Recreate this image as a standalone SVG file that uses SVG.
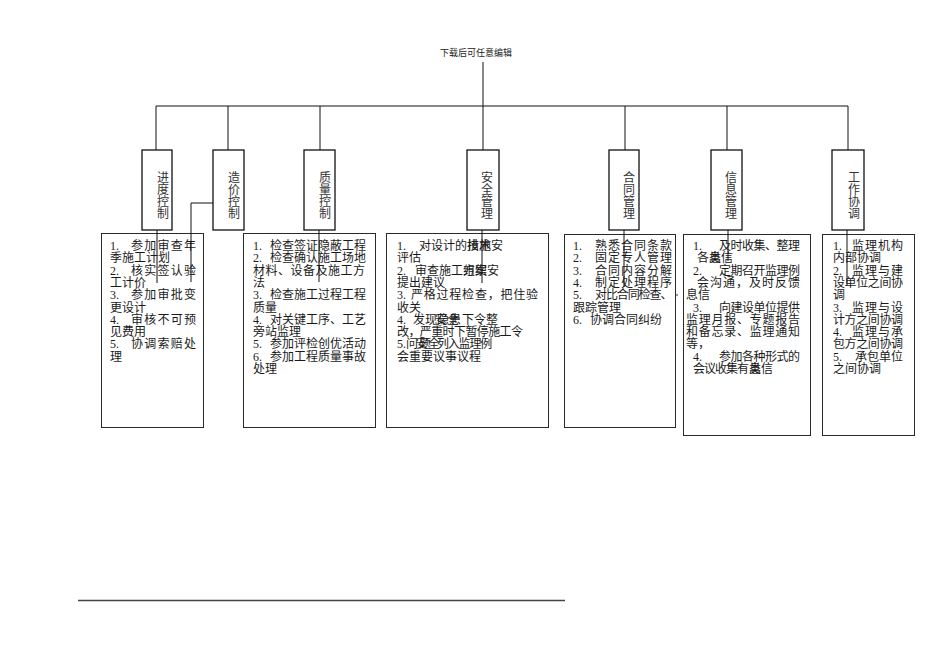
<svg xmlns="http://www.w3.org/2000/svg" width="950" height="672" viewBox="0 0 950 672">
<style>
.t{font-family:"Liberation Serif","Noto Sans CJK SC",serif;font-size:12px;fill:#1a1a1a}
.h{font-family:"Noto Sans CJK SC",sans-serif;font-size:12px;fill:#333;text-anchor:middle}
.ti{font-family:"Noto Sans CJK SC",sans-serif;font-size:9px;fill:#222;text-anchor:middle}
.box{fill:none;stroke:#2a2a2a;stroke-width:1}
.hb{fill:#fff;stroke:#111;stroke-width:1.3}
.ln{stroke:#111;stroke-width:1;fill:none}
</style>
<rect width="950" height="672" fill="#fff"/>
<text class="ti" x="476" y="56">下载后可任意编辑</text>

<g id="c-jindu">
<rect class="box" x="101.5" y="233.5" width="102" height="194"/>
<text class="t" y="250"><tspan x="110">1.</tspan><tspan x="131" letter-spacing="1.25">参加审查年</tspan></text>
<text class="t" x="110" y="262.3">季施工计划</text>
<text class="t" y="274.6"><tspan x="110">2.</tspan><tspan x="131" letter-spacing="1.25">核实签认验</tspan></text>
<text class="t" x="110" y="286.9">工计价</text>
<text class="t" y="299.2"><tspan x="110">3.</tspan><tspan x="131" letter-spacing="1.25">参加审批变</tspan></text>
<text class="t" x="110" y="311.5">更设计</text>
<text class="t" y="323.8"><tspan x="110">4.</tspan><tspan x="131" letter-spacing="1.25">审核不可预</tspan></text>
<text class="t" x="110" y="336.1">见费用</text>
<text class="t" y="348.4"><tspan x="110">5.</tspan><tspan x="131" letter-spacing="1.25">协调索赔处</tspan></text>
<text class="t" x="110" y="360.7">理</text>
</g>

<g id="c-zhiliang">
<rect class="box" x="243.5" y="233.5" width="132" height="194"/>
<text class="t" y="250"><tspan x="253">1.</tspan><tspan x="270">检查签证隐蔽工程</tspan></text>
<text class="t" y="262.3"><tspan x="253">2.</tspan><tspan x="270">检查确认施工场地</tspan></text>
<text class="t" x="253" y="274.6" letter-spacing="0.5">材料、设备及施工方</text>
<text class="t" x="253" y="286.9">法</text>
<text class="t" y="299.2"><tspan x="253">3.</tspan><tspan x="270">检查施工过程工程</tspan></text>
<text class="t" x="253" y="311.5">质量</text>
<text class="t" y="323.8"><tspan x="253">4.</tspan><tspan x="270">对关键工序、工艺</tspan></text>
<text class="t" x="253" y="336.1">旁站监理</text>
<text class="t" y="348.4"><tspan x="253">5.</tspan><tspan x="270">参加评检创优活动</tspan></text>
<text class="t" y="360.7"><tspan x="253">6.</tspan><tspan x="270">参加工程质量事故</tspan></text>
<text class="t" x="253" y="373">处理</text>
</g>

<g id="c-anquan">
<rect class="box" x="386.5" y="233.5" width="162" height="194"/>
<text class="t" y="250"><tspan x="397">1.</tspan><tspan x="419">对设计的</tspan><tspan x="467">技术</tspan><tspan x="467">措施</tspan><tspan x="491">安</tspan></text>
<text class="t" x="397" y="262.3">评估</text>
<text class="t" y="274.6"><tspan x="397">2.</tspan><tspan x="415">审查施工</tspan><tspan x="463">组织</tspan><tspan x="463">方案</tspan><tspan x="487">安</tspan></text>
<text class="t" x="397" y="286.9">提出建议</text>
<text class="t" y="299.2"><tspan x="397">3.</tspan><tspan x="411" letter-spacing="0.78">严格过程检查，把住验</tspan></text>
<text class="t" x="397" y="311.5">收关</text>
<text class="t" y="323.8"><tspan x="397">4.</tspan><tspan x="413">发现</tspan><tspan x="437">隐患</tspan><tspan x="435">安全</tspan><tspan x="462">下令整</tspan></text>
<text class="t" x="397" y="336.1" letter-spacing="-0.6">改，严重时下暂停施工令</text>
<text class="t" y="348.4"><tspan x="397">5.问</tspan><tspan x="419">题</tspan><tspan x="416">安全</tspan><tspan x="437" letter-spacing="-1.2">列入监理例</tspan></text>
<text class="t" x="397" y="360.7">会重要议事议程</text>
</g>

<g id="c-hetong">
<rect class="box" x="564.5" y="234.5" width="111" height="193"/>
<text class="t" y="250"><tspan x="573">1.</tspan><tspan x="595" letter-spacing="1">熟悉合同条款</tspan></text>
<text class="t" y="262.3"><tspan x="573">2.</tspan><tspan x="595" letter-spacing="1">固定专人管理</tspan></text>
<text class="t" y="274.6"><tspan x="573">3.</tspan><tspan x="595" letter-spacing="1">合同内容分解</tspan></text>
<text class="t" y="286.9"><tspan x="573">4.</tspan><tspan x="595" letter-spacing="1">制定处理程序</tspan></text>
<text class="t" y="299.2"><tspan x="573">5.</tspan><tspan x="595" letter-spacing="-1.1">对比合同检查、</tspan></text>
<circle cx="677" cy="295" r="1.2" fill="#999"/>
<text class="t" x="573" y="311.5">跟踪管理</text>
<text class="t" y="323.8"><tspan x="573">6.</tspan><tspan x="590">协调合同纠纷</tspan></text>
</g>

<g id="c-xinxi">
<rect class="box" x="683.5" y="234.5" width="127" height="201"/>
<text class="t" y="250"><tspan x="693">1.</tspan><tspan x="719" letter-spacing="-0.5">及时收集、整理</tspan></text>
<text class="t" y="262.3"><tspan x="697">各</tspan><tspan x="709">类</tspan><tspan x="709">息</tspan><tspan x="721">信</tspan></text>
<text class="t" y="274.6"><tspan x="693">2.</tspan><tspan x="719" letter-spacing="-0.5">定期召开监理例</tspan></text>
<text class="t" x="697" y="286.9" letter-spacing="1">会沟通，及时反馈</text>
<text class="t" x="686" y="299.2">息信</text>
<text class="t" y="311.5"><tspan x="693">3.</tspan><tspan x="719" letter-spacing="-0.5">向建设单位提供</tspan></text>
<text class="t" x="686" y="323.8" letter-spacing="0.75">监理月报、专题报告</text>
<text class="t" x="686" y="336.1" letter-spacing="0.75">和备忘录、监理通知</text>
<text class="t" x="686" y="348.4">等，</text>
<text class="t" y="360.7"><tspan x="693">4.</tspan><tspan x="719" letter-spacing="-0.5">参加各种形式的</tspan></text>
<text class="t" y="373"><tspan x="693" letter-spacing="-1">会议收集有</tspan><tspan x="749">类</tspan><tspan x="749">息</tspan><tspan x="761">信</tspan></text>
</g>

<g id="c-gongzuo">
<rect class="box" x="822.5" y="234.5" width="92" height="201"/>
<text class="t" y="250"><tspan x="833">1.</tspan><tspan x="852" letter-spacing="1">监理机构</tspan></text>
<text class="t" x="833" y="262.3">内部协调</text>
<text class="t" y="274.6"><tspan x="833">2.</tspan><tspan x="852" letter-spacing="1">监理与建</tspan></text>
<text class="t" x="833" y="286.9" letter-spacing="-0.4">设单位之间协</text>
<text class="t" x="833" y="299.2">调</text>
<text class="t" y="311.5"><tspan x="833">3.</tspan><tspan x="852" letter-spacing="1">监理与设</tspan></text>
<text class="t" x="833" y="323.8" letter-spacing="-0.4">计方之间协调</text>
<text class="t" y="336.1"><tspan x="833">4.</tspan><tspan x="852" letter-spacing="1">监理与承</tspan></text>
<text class="t" x="833" y="348.4" letter-spacing="-0.4">包方之间协调</text>
<text class="t" y="360.7"><tspan x="833">5.</tspan><tspan x="855">承包单位</tspan></text>
<text class="t" x="833" y="373">之间协调</text>
</g>

<g id="connectors">
<path class="ln" d="M483 62V106M156 106H848M156 106V150M228 106V150M320 106V150M483 106V150M625 106V150M727 106V150M848 106V150"/>
<path class="ln" d="M157 230V283M213 203H191V282M319 230V282M482 230V283M624 230V287M728 230V261M847 230V286"/>
</g>

<g id="h-jindu"><rect class="hb" x="142" y="150" width="30" height="80"/>
<text class="h" x="163" y="182">进<tspan x="163" dy="12">度</tspan><tspan x="163" dy="12">控</tspan><tspan x="163" dy="12">制</tspan></text></g>
<g id="h-zaojia"><rect class="hb" x="213" y="150" width="31" height="80"/>
<text class="h" x="234" y="182">造<tspan x="234" dy="12">价</tspan><tspan x="234" dy="12">控</tspan><tspan x="234" dy="12">制</tspan></text></g>
<g id="h-zhiliang"><rect class="hb" x="304" y="150" width="31" height="80"/>
<text class="h" x="325" y="182">质<tspan x="325" dy="12">量</tspan><tspan x="325" dy="12">控</tspan><tspan x="325" dy="12">制</tspan></text></g>
<g id="h-anquan"><rect class="hb" x="467" y="150" width="32" height="80"/>
<text class="h" x="487" y="182">安<tspan x="487" dy="12">全</tspan><tspan x="487" dy="12">管</tspan><tspan x="487" dy="12">理</tspan></text></g>
<g id="h-hetong"><rect class="hb" x="609" y="150" width="30" height="80"/>
<text class="h" x="629" y="182">合<tspan x="629" dy="12">同</tspan><tspan x="629" dy="12">管</tspan><tspan x="629" dy="12">理</tspan></text></g>
<g id="h-xinxi"><rect class="hb" x="711" y="150" width="31" height="80"/>
<text class="h" x="731" y="182">信<tspan x="731" dy="12">息</tspan><tspan x="731" dy="12">管</tspan><tspan x="731" dy="12">理</tspan></text></g>
<g id="h-gongzuo"><rect class="hb" x="832" y="150" width="32" height="80"/>
<text class="h" x="854" y="182">工<tspan x="854" dy="12">作</tspan><tspan x="854" dy="12">协</tspan><tspan x="854" dy="12">调</tspan></text></g>

<path d="M78 600.5H565" stroke="#444" stroke-width="1.5"/>
</svg>
